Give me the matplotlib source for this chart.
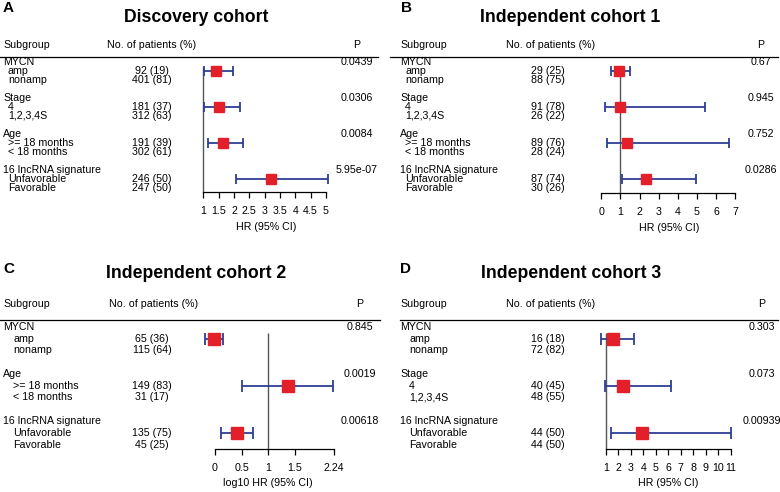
import matplotlib.pyplot as plt
import matplotlib.transforms as mtransforms
import numpy as np

plt.rcParams['font.family'] = ['Liberation Sans', 'DejaVu Sans']

# ---- data -------------------------------------------------------------
titles = ["Discovery cohort", "Independent cohort 1",
          "Independent cohort 2", "Independent cohort 3"]
letters = ["A", "B", "C", "D"]

groups_A = ["MYCN", "Stage", "Age", "16 lncRNA signature"]
levels_A = [["amp", "nonamp"], ["4", "1,2,3,4S"],
            [">= 18 months", "< 18 months"], ["Unfavorable", "Favorable"]]
n_A = [["92 (19)", "401 (81)"], ["181 (37)", "312 (63)"],
       ["191 (39)", "302 (61)"], ["246 (50)", "247 (50)"]]
hr_A = [1.43, 1.51, 1.63, 3.22]
lo_A = [1.01, 1.02, 1.15, 2.05]
hi_A = [1.97, 2.20, 2.28, 5.08]
p_A = ["0.0439", "0.0306", "0.0084", "5.95e-07"]
ticks_A = [1, 1.5, 2, 2.5, 3, 3.5, 4, 4.5, 5]

groups_B = groups_A
levels_B = levels_A
n_B = [["29 (25)", "88 (75)"], ["91 (78)", "26 (22)"],
       ["89 (76)", "28 (24)"], ["87 (74)", "30 (26)"]]
hr_B = [0.94, 0.96, 1.32, 2.33]
lo_B = [0.52, 0.19, 0.28, 1.08]
hi_B = [1.52, 5.40, 6.69, 4.96]
p_B = ["0.67", "0.945", "0.752", "0.0286"]
ticks_B = [0, 1, 2, 3, 4, 5, 6, 7]

groups_C = ["MYCN", "Age", "16 lncRNA signature"]
levels_C = [["amp", "nonamp"], [">= 18 months", "< 18 months"],
            ["Unfavorable", "Favorable"]]
n_C = [["65 (36)", "115 (64)"], ["149 (83)", "31 (17)"],
       ["135 (75)", "45 (25)"]]
hr_C = [-0.01, 1.38, 0.42]
lo_C = [-0.19, 0.50, 0.11]
hi_C = [0.16, 2.23, 0.72]
p_C = ["0.845", "0.0019", "0.00618"]
ticks_C = [0, 0.5, 1, 1.5, 2.24]

groups_D = ["MYCN", "Stage", "16 lncRNA signature"]
levels_D = [["amp", "nonamp"], ["4", "1,2,3,4S"], ["Unfavorable", "Favorable"]]
n_D = [["16 (18)", "72 (82)"], ["40 (45)", "48 (55)"], ["44 (50)", "44 (50)"]]
hr_D = [1.53, 2.39, 3.91]
lo_D = [0.63, 0.92, 1.40]
hi_D = [3.27, 6.19, 11.0]
p_D = ["0.303", "0.073", "0.00939"]
ticks_D = [1, 2, 3, 4, 5, 6, 7, 8, 9, 10, 11]

xlabels = ["HR (95% CI)", "HR (95% CI)", "log10 HR (95% CI)", "HR (95% CI)"]

RED = "#E3202A"
BLUE = "#2E3F94"
W, H = 780, 492
PW, PH = 390, 246

# layout per panel (pixels inside the panel)
layout = [
    dict(ox=0, oy=0, ax_a=(1, 203.3), ax_b=(5, 326), y0=62, dy=9, yaxis=191.7,
         yhead=45, yline=57, ytitle=18, xtitle=196, sub=3, ind=8, npat=107, ncen=152,
         pcen=357, line=(0, 378), xlab=266, ms=7.0, cap=3.4, letter=(3, 8)),
    dict(ox=390, oy=0, ax_a=(0, 211.3), ax_b=(7, 345.3), y0=62, dy=9, yaxis=192.7,
         yhead=45, yline=57, ytitle=18, xtitle=180, sub=10, ind=15, npat=116, ncen=158,
         pcen=371, line=(0, 388), xlab=279, ms=7.0, cap=3.4, letter=(11, 8)),
    dict(ox=0, oy=246, ax_a=(0, 215), ax_b=(1, 268), y0=80.7, dy=11.8, yaxis=203.3,
         yhead=57.7, yline=74, ytitle=27, xtitle=196, sub=3, ind=13, npat=109, ncen=152,
         pcen=360, line=(0, 380), xlab=268, ms=8.6, cap=4.4, letter=(3, 23)),
    dict(ox=390, oy=246, ax_a=(1, 216), ax_b=(11, 340.7), y0=80.7, dy=11.8, yaxis=203.3,
         yhead=57.7, yline=74, ytitle=27, xtitle=181, sub=10, ind=19, npat=116, ncen=158,
         pcen=372, line=(10, 388), xlab=278, ms=8.6, cap=4.4, letter=(10, 23)),
]

panels = [
    (groups_A, levels_A, n_A, hr_A, lo_A, hi_A, p_A, ticks_A),
    (groups_B, levels_B, n_B, hr_B, lo_B, hi_B, p_B, ticks_B),
    (groups_C, levels_C, n_C, hr_C, lo_C, hi_C, p_C, ticks_C),
    (groups_D, levels_D, n_D, hr_D, lo_D, hi_D, p_D, ticks_D),
]

fig = plt.figure(figsize=(W / 100, H / 100), dpi=100)
FS = 7.7

for k, (groups, levels, npats, hr, lo, hi, pv, ticks) in enumerate(panels):
    L = layout[k]
    ax = fig.add_axes([L["ox"] / W, 1 - (L["oy"] + PH) / H, PW / W, PH / H])
    ax.patch.set_visible(False)

    # x scale from two anchor values
    (va, pa), (vb, pb) = L["ax_a"], L["ax_b"]
    kx = (pb - pa) / (vb - va)
    ax.set_xlim(va - pa / kx, va + (PW - pa) / kx)
    # y scale in row units, row 0 at y0
    to_row = lambda py: (py - L["y0"]) / L["dy"]
    ax.set_ylim(to_row(PH), to_row(0))

    tr = mtransforms.blended_transform_factory(ax.transAxes, ax.transData)
    fx = lambda px: px / PW

    # header
    ax.text(fx(L["sub"]), to_row(L["yhead"]), "Subgroup", transform=tr,
            ha="left", va="center", fontsize=FS)
    ax.text(fx(L["npat"]), to_row(L["yhead"]), "No. of patients (%)", transform=tr,
            ha="left", va="center", fontsize=FS)
    ax.text(fx(L["pcen"]), to_row(L["yhead"]), "P", transform=tr,
            ha="center", va="center", fontsize=FS)
    ax.plot([fx(L["line"][0]), fx(L["line"][1])], [to_row(L["yline"])] * 2,
            transform=tr, color="black", lw=0.9, clip_on=False)

    rows = []
    for g, (name, lev, nn) in enumerate(zip(groups, levels, npats)):
        r0 = 4 * g
        ax.text(fx(L["sub"]), r0, name, transform=tr, ha="left", va="center", fontsize=FS)
        ax.text(fx(L["pcen"]), r0, pv[g], transform=tr, ha="center", va="center", fontsize=FS)
        for j in range(2):
            ax.text(fx(L["ind"]), r0 + 1 + j, lev[j], transform=tr,
                    ha="left", va="center", fontsize=FS)
            ax.text(fx(L["ncen"]), r0 + 1 + j, nn[j], transform=tr,
                    ha="center", va="center", fontsize=FS)
        rows.append(r0 + 1)

    rows = np.array(rows, dtype=float)
    hr = np.array(hr)
    axis_row = to_row(L["yaxis"])

    # reference line
    ax.vlines(1, 0.5, axis_row, color="#555555", lw=1.0, zorder=1)

    ax.errorbar(hr, rows, xerr=[hr - np.array(lo), np.array(hi) - hr], fmt="none",
                ecolor=BLUE, elinewidth=1.3, capsize=L["cap"], capthick=1.3, zorder=2)
    ax.plot(hr, rows, "s", color=RED, ms=L["ms"], mec=RED, zorder=3)

    # x axis
    for s in ["top", "left", "right"]:
        ax.spines[s].set_visible(False)
    ax.spines["bottom"].set_position(("data", axis_row))
    ax.spines["bottom"].set_bounds(ticks[0], ticks[-1])
    ax.spines["bottom"].set_linewidth(0.9)
    ax.set_xticks(ticks)
    ax.set_xticklabels([("%g" % t) for t in ticks])
    ax.tick_params(axis="x", direction="out", length=4, width=0.9, pad=6,
                   labelsize=FS)
    ax.set_yticks([])
    ax.text(fx(L["xlab"]), to_row(L["yaxis"] + 35 if k < 2 else L["yaxis"] + 34),
            xlabels[k], transform=tr, ha="center", va="center", fontsize=FS)

    # titles and panel letters
    ax.text(fx(L["letter"][0]), 1 - L["letter"][1] / PH, letters[k],
            transform=ax.transAxes, ha="left", va="center", fontsize=11,
            fontweight="bold")
    ax.text(fx(L["xtitle"]), 1 - L["ytitle"] / PH, titles[k],
            transform=ax.transAxes, ha="center", va="center", fontsize=12.7,
            fontweight="bold")

fig.savefig("out.png", dpi=100)
